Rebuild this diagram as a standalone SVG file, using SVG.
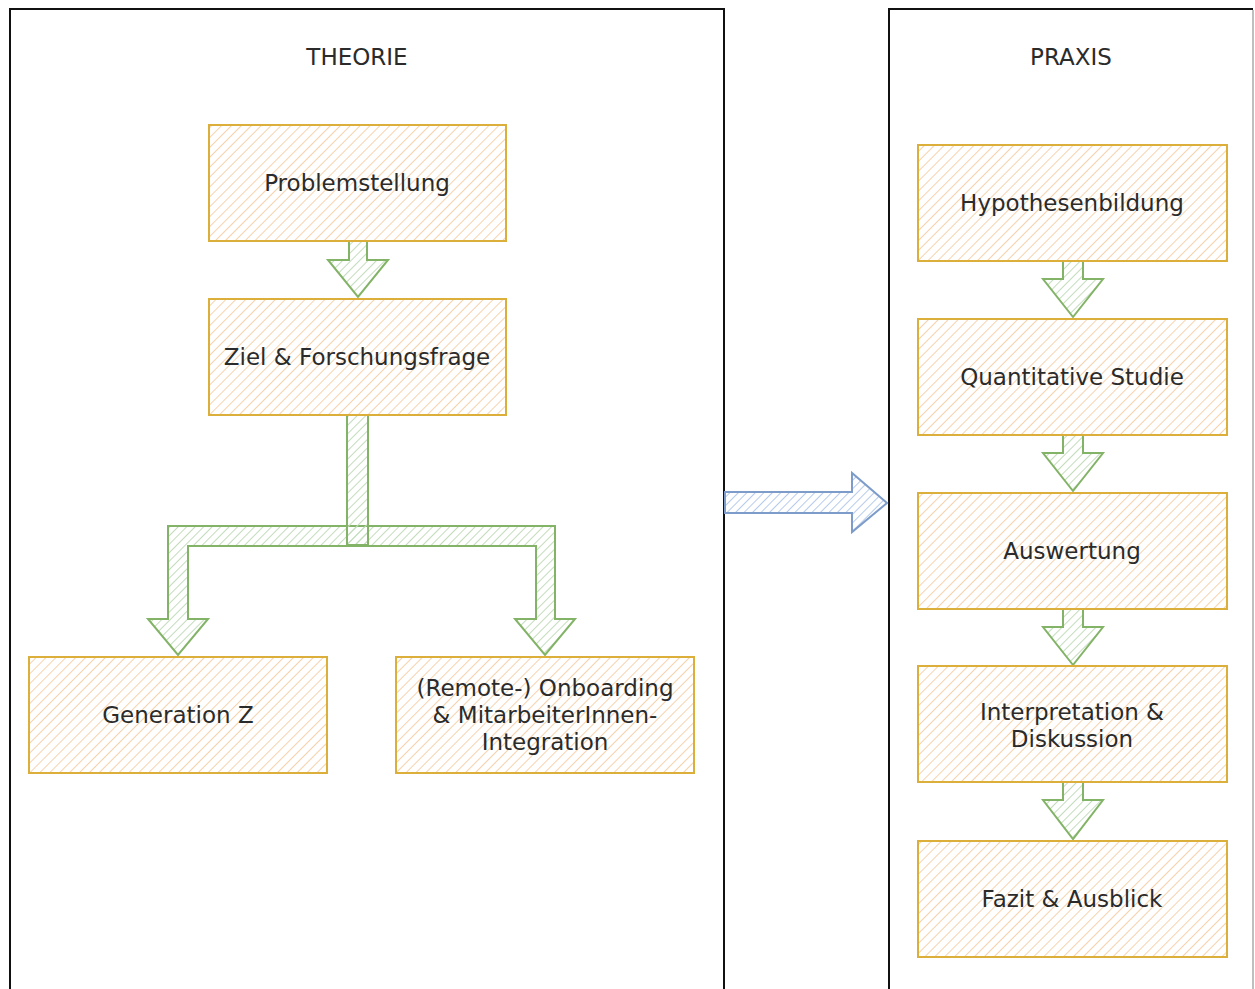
<svg xmlns="http://www.w3.org/2000/svg" width="1255" height="989" viewBox="0 0 1255 989">
<defs>
<pattern id="hatchO" patternUnits="userSpaceOnUse" width="7" height="7" patternTransform="rotate(45)">
<line x1="0" y1="0" x2="0" y2="7" stroke="#f6d2ad" stroke-width="2"/>
</pattern>
<pattern id="hatchG" patternUnits="userSpaceOnUse" width="6" height="6" patternTransform="rotate(45)">
<line x1="0" y1="0" x2="0" y2="6" stroke="#c3dcbc" stroke-width="2"/>
</pattern>
<pattern id="hatchB" patternUnits="userSpaceOnUse" width="6" height="6" patternTransform="rotate(45)">
<line x1="0" y1="0" x2="0" y2="6" stroke="#b7cbec" stroke-width="2"/>
</pattern>
</defs>
<style>
.panel{fill:none;stroke:#111;stroke-width:2}
.box{fill:url(#hatchO);stroke:#dcae3a;stroke-width:2}
.g{fill:url(#hatchG);stroke:#82b366;stroke-width:2;stroke-linejoin:miter}
.b{fill:url(#hatchB);stroke:#7d9cc9;stroke-width:2}
text{font-family:"DejaVu Sans","Verdana",sans-serif;font-size:23px;fill:#2b2b2b;text-anchor:middle;dominant-baseline:central}
</style>
<rect width="1255" height="989" fill="#fff"/>
<g id="theorie-panel">
<rect class="panel" x="10" y="9" width="714" height="1000"/>
<text x="357" y="57">THEORIE</text>
</g>
<g id="praxis-panel">
<path d="M889 1000 V9 H1253" class="panel"/>
<line x1="1253" y1="10" x2="1253" y2="989" stroke="#aaa" stroke-width="1.5"/>
<text x="1071" y="57">PRAXIS</text>
</g>
<g id="connectors">
<polygon class="g" points="349,241 367,241 367,260 388,260 358,297 328,260 349,260"/>
<polygon class="g" points="168,526 555,526 555,619 575,619 545,655 515,619 536,619 536,546 188,546 188,619 208,619 178,655 148,619 168,619"/>
<rect class="g" x="347" y="415" width="21" height="130"/>
<polygon class="g" points="1063,261 1083,261 1083,279 1103,279 1073,317 1043,279 1063,279"/>
<polygon class="g" points="1063,435 1083,435 1083,453 1103,453 1073,491 1043,453 1063,453"/>
<polygon class="g" points="1063,609 1083,609 1083,627 1103,627 1073,665 1043,627 1063,627"/>
<polygon class="g" points="1063,782 1083,782 1083,800 1103,800 1073,839 1043,800 1063,800"/>
<polygon class="b" points="725,492 852,492 852,473 887,503 852,532 852,513 725,513"/>
</g>
<g id="problemstellung">
<rect class="box" x="209" y="125" width="297" height="116"/>
<text x="357" y="183">Problemstellung</text>
</g>
<g id="ziel">
<rect class="box" x="209" y="299" width="297" height="116"/>
<text x="357" y="357">Ziel &amp; Forschungsfrage</text>
</g>
<g id="generation-z">
<rect class="box" x="29" y="657" width="298" height="116"/>
<text x="178" y="715">Generation Z</text>
</g>
<g id="onboarding">
<rect class="box" x="396" y="657" width="298" height="116"/>
<text x="545" y="688">(Remote-) Onboarding</text>
<text x="545" y="715">&amp; MitarbeiterInnen-</text>
<text x="545" y="742">Integration</text>
</g>
<g id="hypothesenbildung">
<rect class="box" x="918" y="145" width="309" height="116"/>
<text x="1072" y="203">Hypothesenbildung</text>
</g>
<g id="quantitative-studie">
<rect class="box" x="918" y="319" width="309" height="116"/>
<text x="1072" y="377">Quantitative Studie</text>
</g>
<g id="auswertung">
<rect class="box" x="918" y="493" width="309" height="116"/>
<text x="1072" y="551">Auswertung</text>
</g>
<g id="interpretation">
<rect class="box" x="918" y="666" width="309" height="116"/>
<text x="1072" y="712">Interpretation &amp;</text>
<text x="1072" y="739">Diskussion</text>
</g>
<g id="fazit">
<rect class="box" x="918" y="841" width="309" height="116"/>
<text x="1072" y="899">Fazit &amp; Ausblick</text>
</g>
</svg>
